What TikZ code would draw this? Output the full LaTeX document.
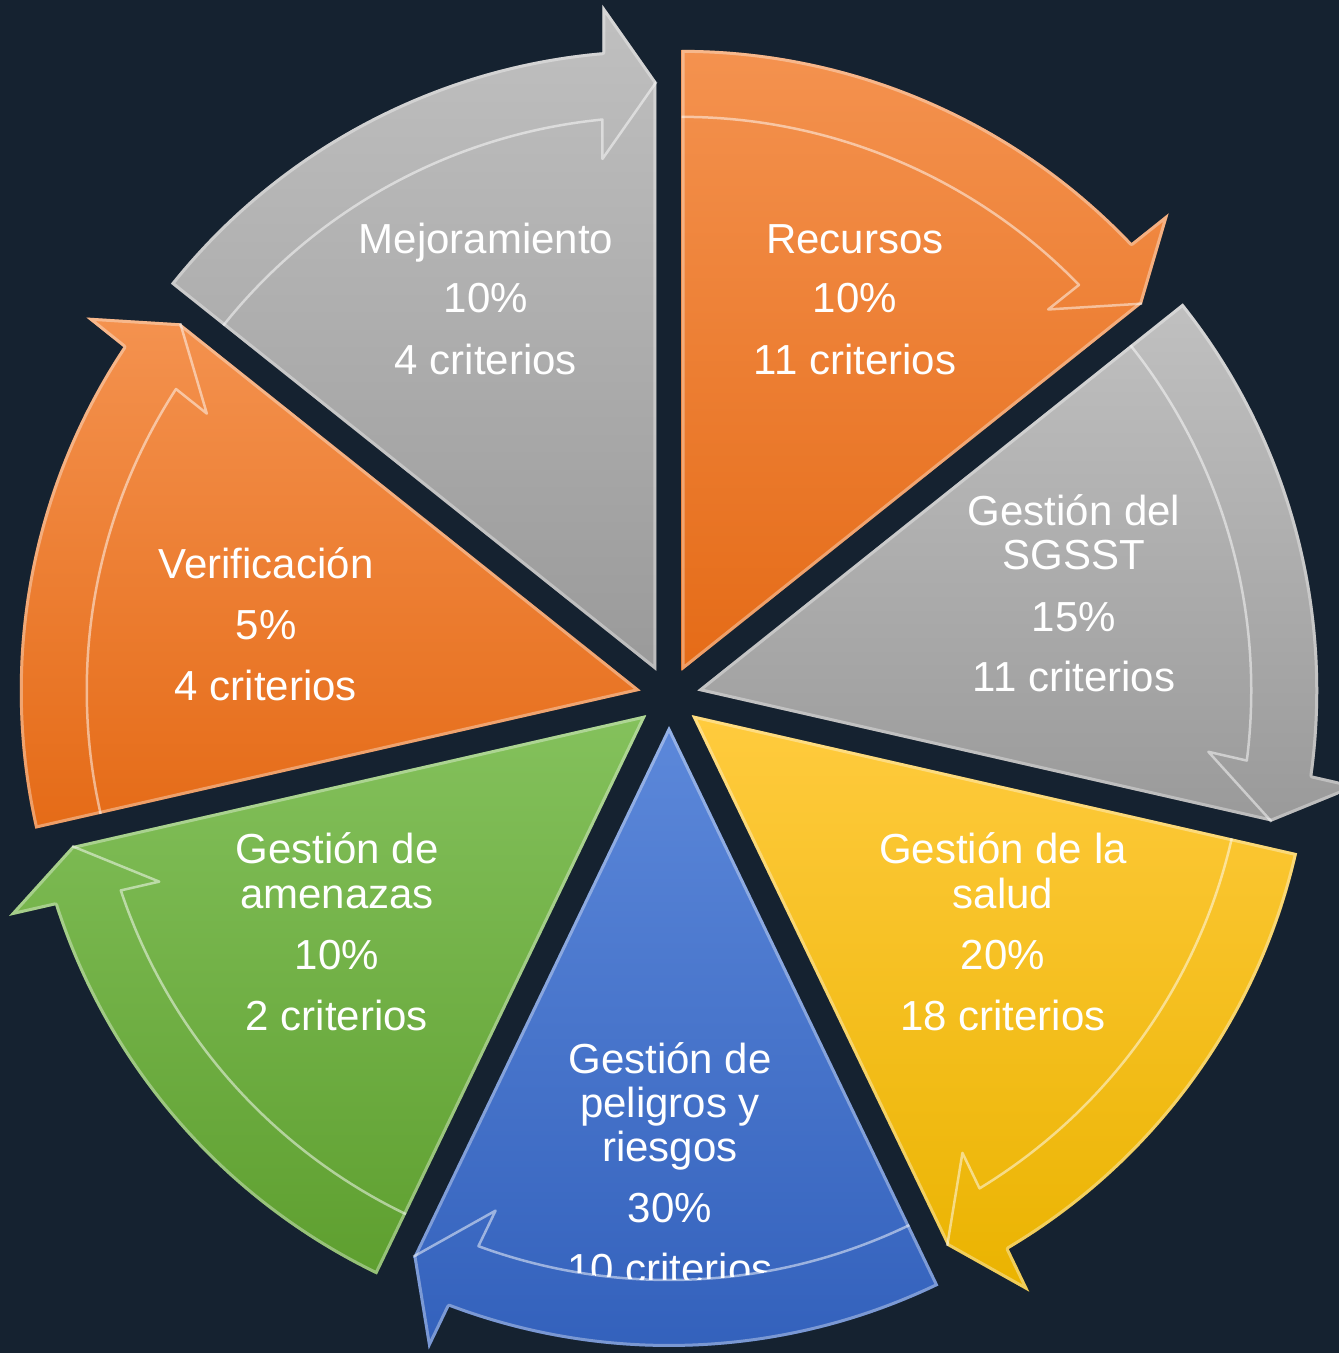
\documentclass[tikz,border=0pt]{standalone}
\usepackage{fontspec}
\setmainfont{Liberation Sans}
\definecolor{bg}{HTML}{152230}
\definecolor{orT}{HTML}{F4924F}
\definecolor{orB}{HTML}{E56B17}
\definecolor{grT}{HTML}{C0C0C0}
\definecolor{grB}{HTML}{9A9A9A}
\definecolor{yeT}{HTML}{FFCB3E}
\definecolor{yeB}{HTML}{EAB300}
\definecolor{blT}{HTML}{5C88DA}
\definecolor{blB}{HTML}{3260BB}
\definecolor{gnT}{HTML}{84C15C}
\definecolor{gnB}{HTML}{5E9F2F}
\tikzset{
  lbl/.style={text=white, font=\fontsize{42}{46}\selectfont, anchor=base, inner sep=0pt},
  bevel/.style={white, opacity=0.35, line width=6pt, line join=round},
  innerline/.style={white, opacity=0.5, line width=2.5pt, line join=round}
}
% #1 = clockwise end angle, #2 top colour, #3 bottom colour
\newcommand\drawseg[3]{%
  \begin{scope}[shift={(669,656)},shift={(#1+25.7143:29)}]
    \path[top color=#2, bottom color=#3] (0,0) -- (#1+51.4286:621)
      arc[start angle=#1+51.4286, end angle=#1+4.988, radius=621]
      -- (#1+4.635:668.2) -- (#1:589) -- cycle;
    \begin{scope}
      \clip (0,0) -- (#1+51.4286:621)
        arc[start angle=#1+51.4286, end angle=#1+4.988, radius=621]
        -- (#1+4.635:668.2) -- (#1:589) -- cycle;
      \draw[bevel] (0,0) -- (#1+51.4286:621)
        arc[start angle=#1+51.4286, end angle=#1+4.988, radius=621]
        -- (#1+4.635:668.2) -- (#1:589) -- cycle;
    \end{scope}
    \draw[innerline] (#1+51.4286:554)
      arc[start angle=#1+51.4286, end angle=#1+5.594, radius=554]
      -- (#1+6.021:514.8) -- (#1:589);
  \end{scope}}
\begin{document}
\begin{tikzpicture}[x=1pt,y=1pt]
\useasboundingbox (0,0) rectangle (1339,1353);
\fill[bg] (0,0) rectangle (1339,1353);

\drawseg{38.5714}{orT}{orB}
\drawseg{-12.8571}{grT}{grB}
\drawseg{-64.2857}{yeT}{yeB}
\drawseg{-115.7143}{blT}{blB}
\drawseg{-167.1429}{gnT}{gnB}
\drawseg{141.4286}{orT}{orB}
\drawseg{90}{grT}{grB}

% Mejoramiento
\node[lbl] (m1) at (486,1099) {Mejoramiento};
\node[lbl] (m2) at (486,1040) {10\%};
\node[lbl] (m3) at (486,978) {4 criterios};
% Recursos
\node[lbl] (r1) at (855,1099) {Recursos};
\node[lbl] (r2) at (855,1040) {10\%};
\node[lbl] (r3) at (855,978) {11 criterios};
% SGSST
\node[lbl] (s1) at (1074,827) {Gestión del};
\node[lbl] (s2) at (1074,783) {SGSST};
\node[lbl] (s3) at (1074,721) {15\%};
\node[lbl] (s4) at (1074,661) {11 criterios};
% Salud
\node[lbl] (h1) at (1003,489) {Gestión de la};
\node[lbl] (h2) at (1003,444) {salud};
\node[lbl] (h3) at (1003,383) {20\%};
\node[lbl] (h4) at (1003,322) {18 criterios};
% Amenazas
\node[lbl] (a1) at (337,489) {Gestión de};
\node[lbl] (a2) at (337,444) {amenazas};
\node[lbl] (a3) at (337,383) {10\%};
\node[lbl] (a4) at (337,322) {2 criterios};
% Verificacion
\node[lbl] (v1) at (266,774) {Verificación};
\node[lbl] (v2) at (266,713) {5\%};
\node[lbl] (v3) at (266,652) {4 criterios};
% Peligros
\begin{scope}
  \clip (669,627) circle[radius=554];
  \node[lbl] (p1) at (670,279) {Gestión de};
  \node[lbl] (p2) at (670,235) {peligros y};
  \node[lbl] (p3) at (670,191) {riesgos};
  \node[lbl] (p4) at (670,130) {30\%};
  \node[lbl] (p5) at (670,69) {10 criterios};
\end{scope}
\end{tikzpicture}
\end{document}
